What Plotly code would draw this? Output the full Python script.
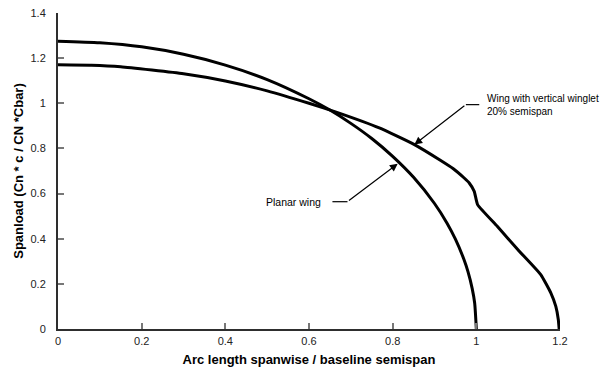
import plotly.graph_objects as go

# Spanwise load distributions (x = arc length / baseline semispan)
planar_x = [0.0, 0.1, 0.2, 0.3, 0.4, 0.5, 0.6, 0.65, 0.7, 0.75, 0.8, 0.85,
            0.9, 0.93, 0.95, 0.97, 0.98, 0.99, 0.996, 1.0]
planar_y = [1.275, 1.268, 1.25, 1.217, 1.169, 1.105, 1.02, 0.97, 0.911, 0.844,
            0.765, 0.672, 0.556, 0.469, 0.398, 0.31, 0.254, 0.18, 0.115, 0.0]

winglet_x = [0.0, 0.08, 0.15, 0.3, 0.4, 0.5, 0.6, 0.665, 0.768, 0.852, 0.912,
             0.945, 0.971, 0.983, 0.995, 1.003, 1.05, 1.1, 1.154, 1.178, 1.19,
             1.196, 1.198]
winglet_y = [1.171, 1.169, 1.162, 1.131, 1.099, 1.055, 1.0, 0.961, 0.891, 0.817,
             0.75, 0.71, 0.669, 0.647, 0.61, 0.551, 0.455, 0.35, 0.241, 0.16,
             0.10, 0.041, 0.0]

x_ticks = [0, 0.2, 0.4, 0.6, 0.8, 1.0, 1.2]
x_tick_text = ["0", "0.2", "0.4", "0.6", "0.8", "1", "1.2"]
y_ticks = [0, 0.2, 0.4, 0.6, 0.8, 1.0, 1.2, 1.4]
y_tick_text = ["0", "0.2", "0.4", "0.6", "0.8", "1", "1.2", "1.4"]

FONT = "Liberation Sans, Arial, sans-serif"
AXIS_COLOR = "#2e2e2e"

fig = go.Figure()
fig.add_trace(go.Scatter(x=planar_x, y=planar_y, mode="lines",
                         line=dict(color="black", width=3, shape="spline", smoothing=0.6),
                         name="Planar wing", showlegend=False))
fig.add_trace(go.Scatter(x=winglet_x, y=winglet_y, mode="lines",
                         line=dict(color="black", width=3, shape="spline", smoothing=0.4),
                         name="Wing with vertical winglet", showlegend=False))

# Leader lines for the callouts
leader = dict(color="black", width=1.2)
fig.add_shape(type="line", x0=0.975, y0=0.994, x1=1.007, y1=0.994, line=leader)
fig.add_shape(type="line", x0=0.656, y0=0.564, x1=0.692, y1=0.564, line=leader)

# Arrowed segments pointing at each curve
fig.add_annotation(x=0.852, y=0.817, ax=0.975, ay=0.994, axref="x", ayref="y",
                   xref="x", yref="y", text="", showarrow=True,
                   arrowhead=2, arrowsize=1.3, arrowwidth=1.2, arrowcolor="black")
fig.add_annotation(x=0.812, y=0.732, ax=0.692, ay=0.564, axref="x", ayref="y",
                   xref="x", yref="y", text="", showarrow=True,
                   arrowhead=2, arrowsize=1.3, arrowwidth=1.2, arrowcolor="black")

fig.add_annotation(x=1.02, y=0.994, xref="x", yref="y", xanchor="left", yanchor="middle",
                   text="Wing with vertical winglet<br>20% semispan", align="left",
                   showarrow=False, font=dict(family=FONT, size=10, color="black"))
fig.add_annotation(x=0.634, y=0.564, xref="x", yref="y", xanchor="right", yanchor="middle",
                   text="Planar wing", showarrow=False,
                   font=dict(family=FONT, size=10.5, color="black"))

fig.update_layout(
    width=601, height=371,
    margin=dict(l=58, r=41, t=13, b=42),
    plot_bgcolor="white", paper_bgcolor="white",
    font=dict(family=FONT, size=11, color="#222"),
)
fig.update_xaxes(range=[0, 1.2], tickvals=x_ticks, ticktext=x_tick_text,
                 showgrid=False, zeroline=False, showline=True, linecolor=AXIS_COLOR,
                 linewidth=2, ticks="inside", ticklen=6, tickwidth=1.5, tickcolor="#777",
                 ticklabelstandoff=1, automargin=False,
                 title=dict(text="<b>Arc length spanwise / baseline semispan</b>",
                            font=dict(family=FONT, size=13, color="black"), standoff=9))
fig.update_yaxes(range=[0, 1.4], tickvals=y_ticks, ticktext=y_tick_text,
                 showgrid=False, zeroline=False, showline=True, linecolor=AXIS_COLOR,
                 linewidth=2, ticks="inside", ticklen=6, tickwidth=1.5, tickcolor="#777",
                 ticklabelstandoff=8, automargin=False,
                 title=dict(text="<b>Spanload (Cn * c / CN *Cbar)</b>",
                            font=dict(family=FONT, size=13, color="black"), standoff=4))

fig.write_html("out.html")
